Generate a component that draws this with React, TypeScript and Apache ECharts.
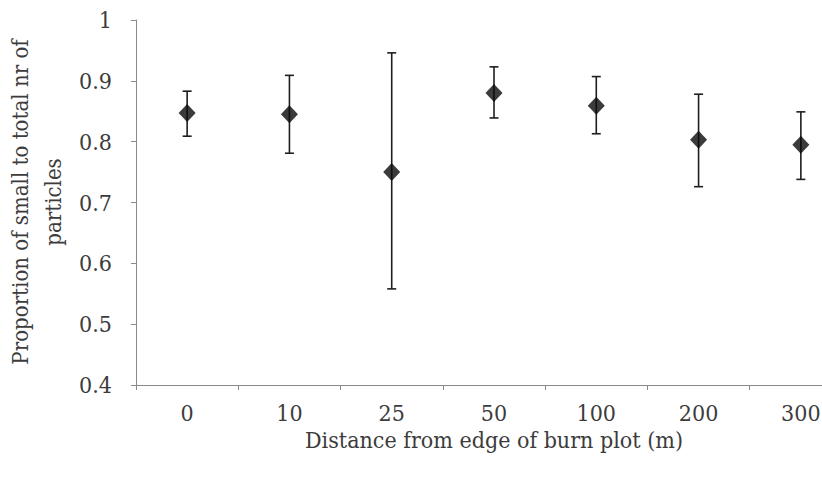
import React, { useEffect, useRef } from "react";
import * as echarts from "echarts";

const categories = ["0", "10", "25", "50", "100", "200", "300"];
const means = [0.847, 0.845, 0.75, 0.88, 0.859, 0.803, 0.795];
const upper = [0.883, 0.909, 0.946, 0.923, 0.907, 0.878, 0.849];
const lower = [0.809, 0.781, 0.558, 0.839, 0.813, 0.726, 0.738];
const yTicks = { min: 0.4, max: 1, interval: 0.1 };

const FONT = "DejaVu Serif Condensed";
const TEXT = "#3c3c3c";

export default function App() {
  const ref = useRef<HTMLDivElement>(null);
  useEffect(() => {
    if (!ref.current) return;
    const chart = echarts.init(ref.current, null, { renderer: "svg" });
    const errData = categories.map((_, i) => [i, lower[i], upper[i]]);
    chart.setOption({
      animation: false,
      backgroundColor: "#ffffff",
      grid: { left: 136, top: 20, height: 365, width: 716, outerBoundsMode: "none", containLabel: false },
      xAxis: {
        type: "category",
        data: categories,
        boundaryGap: true,
        name: "Distance from edge of burn plot (m)",
        nameLocation: "middle",
        nameGap: 42,
        nameTextStyle: { fontFamily: FONT, fontSize: 23, color: TEXT },
        axisLine: { lineStyle: { color: "#8a8a8a", width: 1 } },
        axisTick: { show: true, length: 5, lineStyle: { color: "#8a8a8a" } },
        axisLabel: { fontFamily: FONT, fontSize: 23, color: TEXT, margin: 16 },
        splitLine: { show: false },
      },
      yAxis: {
        type: "value",
        min: yTicks.min,
        max: yTicks.max,
        interval: yTicks.interval,
        axisLine: { show: true, lineStyle: { color: "#8a8a8a", width: 1 } },
        axisTick: { show: true, length: 5, lineStyle: { color: "#8a8a8a" } },
        axisLabel: {
          fontFamily: FONT,
          fontSize: 23,
          color: TEXT,
          margin: 24,
          formatter: (v: number) => String(parseFloat(v.toFixed(1))),
        },
        splitLine: { show: false },
      },
      graphic: [
        {
          type: "text",
          x: 20,
          y: 202,
          rotation: Math.PI / 2,
          style: {
            text: "Proportion of small to total nr of",
            fontFamily: FONT,
            fontSize: 22,
            fill: TEXT,
            textAlign: "center",
            textVerticalAlign: "middle",
          },
        },
        {
          type: "text",
          x: 53,
          y: 202,
          rotation: Math.PI / 2,
          style: {
            text: "particles",
            fontFamily: FONT,
            fontSize: 22,
            fill: TEXT,
            textAlign: "center",
            textVerticalAlign: "middle",
          },
        },
      ],
      series: [
        {
          type: "custom",
          data: errData,
          renderItem: (params: any, api: any) => {
            const x = api.value(0);
            const lo = api.coord([x, api.value(1)]);
            const hi = api.coord([x, api.value(2)]);
            const cap = 4.5;
            const style = { stroke: "#1e1e1e", lineWidth: 1.6 };
            return {
              type: "group",
              children: [
                { type: "line", shape: { x1: hi[0], y1: hi[1], x2: lo[0], y2: lo[1] }, style },
                { type: "line", shape: { x1: hi[0] - cap, y1: hi[1], x2: hi[0] + cap, y2: hi[1] }, style },
                { type: "line", shape: { x1: lo[0] - cap, y1: lo[1], x2: lo[0] + cap, y2: lo[1] }, style },
              ],
            };
          },
          z: 2,
        },
        {
          type: "scatter",
          data: means,
          symbol: "diamond",
          symbolSize: [17, 18],
          itemStyle: { color: "#0a0a0a" },
          z: 3,
        },
      ],
    });
    return () => chart.dispose();
  }, []);
  return (
    <div
      ref={ref}
      style={{ position: "fixed", left: 0, top: 0, width: 822, height: 477 }}
    />
  );
}
